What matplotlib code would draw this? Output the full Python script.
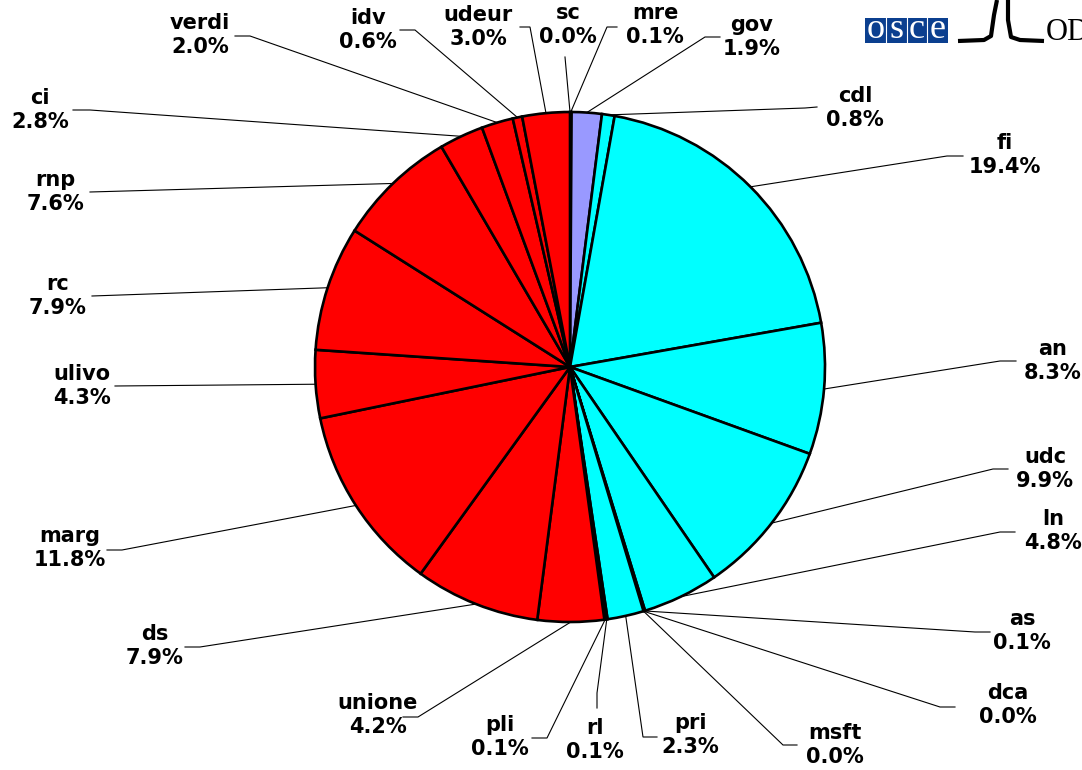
import numpy as np
import matplotlib
matplotlib.use("Agg")
import matplotlib.pyplot as plt
from matplotlib.patches import Rectangle

# ---- data ----
parties = ["sc", "mre", "gov", "cdl", "fi", "an", "udc", "ln", "as", "dca", "msft",
           "pri", "rl", "pli", "unione", "ds", "marg", "ulivo", "rc", "rnp", "ci",
           "verdi", "idv", "udeur"]
shares = [0.0, 0.1, 1.9, 0.8, 19.4, 8.3, 9.9, 4.8, 0.1, 0.0, 0.0,
          2.3, 0.1, 0.1, 4.2, 7.9, 11.8, 4.3, 7.9, 7.6, 2.8,
          2.0, 0.6, 3.0]
groups = ["opp", "gov", "gov", "right", "right", "right", "right", "right", "opp", "opp", "opp",
          "right", "opp", "opp", "opp", "opp", "opp", "opp", "opp", "opp", "opp",
          "opp", "opp", "opp"]

# ---- style / layout ----
group_colors = {"gov": "#9999FF", "right": "#00FFFF", "opp": "#FF0000"}
W, H = 1082, 770
CX, CY, R = 570, 367, 255  # pixel coords (y down)

# label layout in pixel coordinates (y down): text centre, knee, stub end
text_pos = [(568, 25), (655, 25), (752, 37), (855, 108), (1005, 155), (1053, 361),
            (1045, 469), (1053, 531), (1022, 631), (1008, 705), (835, 745),
            (690, 735), (595, 740), (500, 737), (378, 715), (155, 646), (70, 548),
            (82, 386), (58, 296), (55, 192), (40, 110), (200, 35), (368, 30), (478, 27)]
knees = [(565, 57), (607, 27), (705, 37), (805, 108), (947, 156), (1000, 361),
         (993, 469), (1000, 532), (975, 632), (940, 707), (783, 745),
         (643, 737), (597, 693), (547, 738), (418, 717), (200, 647), (122, 550),
         (115, 386), (92, 296), (90, 192), (90, 110), (250, 36), (415, 30), (530, 27)]
stubs = [(565, 57), (617, 27), (720, 37), (817, 107), (963, 156), (1016, 361),
         (1008, 469), (1015, 532), (990, 632), (955, 707), (797, 745),
         (657, 737), (597, 708), (532, 738), (403, 717), (185, 647), (107, 550),
         (115, 386), (92, 296), (90, 192), (73, 110), (235, 36), (400, 30), (520, 27)]

fig = plt.figure(figsize=(W / 100, H / 100), dpi=100)
ax = fig.add_axes([0, 0, 1, 1])


def fy(y):
    return H - y


colors = [group_colors[g] for g in groups]
wedges, _ = ax.pie(shares, colors=colors, startangle=90, counterclock=False,
                   radius=R, center=(CX, fy(CY)), frame=True,
                   wedgeprops=dict(edgecolor="black", linewidth=1.9))
ax.set_xlim(0, W)
ax.set_ylim(0, H)
ax.axis("off")

# leader lines and labels
for i, w in enumerate(wedges):
    mid = np.deg2rad((w.theta1 + w.theta2) / 2)
    px = CX + R * np.cos(mid)
    py = fy(CY) + R * np.sin(mid)
    kx, ky = knees[i]
    sx, sy = stubs[i]
    ax.plot([px, kx, sx], [py, fy(ky), fy(sy)], color="black", lw=0.8,
            solid_joinstyle="miter", zorder=1)
    tx, ty = text_pos[i]
    ax.text(tx, fy(ty), f"{parties[i]}\n{shares[i]:.1f}%", ha="center", va="center",
            fontsize=15, fontweight="bold", family="DejaVu Sans", linespacing=1.28)

# OSCE logo (top right)
ax.add_patch(Rectangle((865, fy(43)), 83, 25, facecolor="#0B3F8F", edgecolor="none"))
for xs in (886, 907, 927):
    ax.plot([xs, xs], [fy(43), fy(18)], color="white", lw=0.8)
for j, ch in enumerate("osce"):
    ax.text(875.5 + j * 20.8, fy(29), ch, color="white", ha="center", va="center",
            fontsize=26, family="Liberation Serif")
ax.plot([958, 984, 991, 994, 997], [fy(41), fy(40), fy(36), fy(15), fy(0)],
        color="black", lw=3, solid_capstyle="butt")
ax.plot([1008, 1008, 1011, 1020, 1044], [fy(0), fy(20), fy(37), fy(40), fy(41)],
        color="black", lw=3, solid_capstyle="butt")
ax.text(1046, fy(40), "ODIHR", color="black", ha="left", va="baseline",
        fontsize=22, family="Liberation Serif")

fig.savefig("out.png", dpi=100)
